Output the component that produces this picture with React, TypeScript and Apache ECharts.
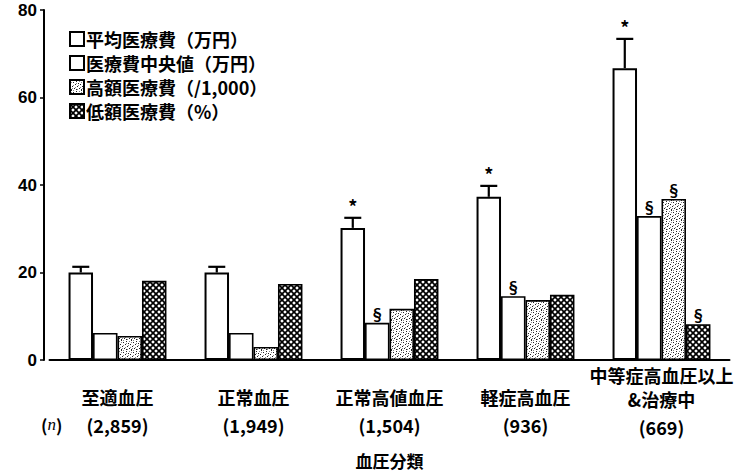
import React, { useEffect, useRef } from "react";
import * as echarts from "echarts";

// Blood-pressure classes and group sizes (n)
const categories = ["至適血圧", "正常血圧", "正常高値血圧", "軽症高血圧", "中等症高血圧以上\n&治療中"];
const groupSizes = ["(2,859)", "(1,949)", "(1,504)", "(936)", "(669)"];

// Series values
const meanCost = [20.0, 20.0, 30.2, 37.3, 66.7];          // 平均医療費 (万円)
const meanCostUpper = [21.3, 21.3, 32.5, 39.8, 73.4];     // upper end of error bar
const meanCostStar = [false, false, true, true, true];    // * significance
const medianCost = [6.2, 6.2, 8.5, 14.6, 32.9];           // 医療費中央値 (万円)
const medianMark = [false, false, true, true, true];      // § significance
const highCost = [5.5, 3.0, 11.7, 13.7, 36.8];            // 高額医療費 (/1,000)
const highMark = [false, false, false, false, true];
const lowCost = [18.1, 17.4, 18.5, 14.9, 8.2];            // 低額医療費 (%)
const lowMark = [false, false, false, false, true];

const seriesNames = ["平均医療費（万円）", "医療費中央値（万円）", "高額医療費（/1,000）", "低額医療費（%）"];
const yTicks = [0, 20, 40, 60, 80];

const FONT = "'Noto Sans CJK JP', sans-serif";
const BAR_GAP_RATIO = 0.28;

function stippleTile(): HTMLCanvasElement {
  const c = document.createElement("canvas");
  c.width = 10;
  c.height = 10;
  const g = c.getContext("2d")!;
  g.fillStyle = "#fff";
  g.fillRect(0, 0, 10, 10);
  const dark: [number, number][] = [
    [1, 0], [6, 1], [3, 2], [8, 3], [0, 4], [5, 4], [2, 6], [7, 6], [4, 8], [9, 8], [1, 9], [6, 9],
  ];
  const mid: [number, number][] = [[3, 0], [9, 1], [1, 2], [6, 3], [3, 5], [8, 5], [0, 7], [5, 7], [2, 8], [7, 9]];
  g.fillStyle = "#222";
  dark.forEach(([x, y]) => g.fillRect(x, y, 1, 1));
  g.fillStyle = "#888";
  mid.forEach(([x, y]) => g.fillRect(x, y, 1, 1));
  return c;
}

function hatchTile(): HTMLCanvasElement {
  const c = document.createElement("canvas");
  c.width = 6;
  c.height = 6;
  const g = c.getContext("2d")!;
  g.fillStyle = "#fff";
  g.fillRect(0, 0, 6, 6);
  g.strokeStyle = "#000";
  g.lineWidth = 1.7;
  g.beginPath();
  g.moveTo(-1, -1); g.lineTo(7, 7);
  g.moveTo(7, -1); g.lineTo(-1, 7);
  g.stroke();
  return c;
}

function markedData(values: number[], marks: boolean[]) {
  return values.map((v, i) => ({ value: v, label: { show: marks[i] } }));
}

export default function App() {
  const ref = useRef<HTMLDivElement>(null);

  useEffect(() => {
    if (!ref.current) return;
    const chart = echarts.init(ref.current, undefined, { renderer: "svg" });

    const stipple = { image: stippleTile(), repeat: "repeat" };
    const hatch = { image: hatchTile(), repeat: "repeat" };

    const barBase = {
      type: "bar",
      barGap: "0%",
      barCategoryGap: BAR_GAP_RATIO * 100 + "%",
      label: {
        show: false,
        position: "top",
        distance: 2,
        formatter: "§",
        color: "#000",
        fontSize: 15,
        fontWeight: "bold",
        fontFamily: FONT,
      },
    };

    const errorData = meanCost.map((v, i) => [i, v, meanCostUpper[i], meanCostStar[i] ? 1 : 0]);

    chart.setOption({
      animation: false,
      backgroundColor: "#fff",
      textStyle: { fontFamily: FONT, color: "#000" },
      grid: { left: 49.5, right: 7.5, top: 10, bottom: 115 },
      legend: {
        data: seriesNames,
        orient: "vertical",
        left: 64,
        top: 25,
        itemWidth: 14,
        itemHeight: 14,
        itemGap: 6,
        icon: "rect",
        textStyle: { fontSize: 18, fontWeight: "bold", fontFamily: FONT, color: "#000", padding: [0, 0, 0, -3] },
      },
      xAxis: {
        type: "category",
        data: categories,
        name: "血圧分類",
        nameLocation: "middle",
        nameGap: 92,
        nameTextStyle: { fontSize: 17, fontWeight: "bold", fontFamily: FONT, color: "#000" },
        axisLine: { lineStyle: { color: "#000", width: 2 } },
        axisTick: { show: false },
        axisLabel: {
          interval: 0,
          margin: 3,
          formatter: (value: string, idx: number) => {
            const lines = value.split("\n");
            const head = lines.length === 1 ? "{s| }\n" : "";
            return head + lines.map((l) => "{a|" + l + "}").join("\n") + "\n{n|" + groupSizes[idx] + "}";
          },
          rich: {
            s: { lineHeight: 22, fontSize: 17 },
            a: { lineHeight: 24, fontSize: 18, fontWeight: "bold", fontFamily: FONT, color: "#000" },
            n: { lineHeight: 31, fontSize: 18, fontWeight: "bold", fontFamily: FONT, color: "#000" },
          },
        },
      },
      yAxis: {
        type: "value",
        min: 0,
        max: 80,
        interval: 20,
        offset: 5.5,
        splitLine: { show: false },
        axisLine: { show: true, lineStyle: { color: "#000", width: 2 } },
        axisTick: { show: true, length: 4, lineStyle: { color: "#000", width: 1.5 } },
        axisLabel: {
          margin: 7,
          fontSize: 17,
          fontWeight: "bold",
          fontFamily: "'Liberation Sans', sans-serif",
          color: "#000",
          formatter: (v: number) => (yTicks.includes(v) ? String(v) : ""),
        },
      },
      graphic: [
        {
          type: "text",
          left: 41,
          top: 416,
          style: {
            text: "({i|n})",
            fontSize: 17,
            fontWeight: "bold",
            fontFamily: FONT,
            fill: "#000",
            rich: { i: { fontStyle: "italic", fontSize: 17, fontFamily: "'Liberation Serif', serif", fill: "#000" } },
          },
        },
      ],
      series: [
        {
          ...barBase,
          name: seriesNames[0],
          data: meanCost,
          itemStyle: { color: "#fff", borderColor: "#000", borderWidth: 2 },
        },
        {
          ...barBase,
          name: seriesNames[1],
          data: markedData(medianCost, medianMark),
          itemStyle: { color: "#fff", borderColor: "#000", borderWidth: 1.6 },
        },
        {
          ...barBase,
          name: seriesNames[2],
          data: markedData(highCost, highMark),
          itemStyle: { color: stipple, borderColor: "#000", borderWidth: 1.6 },
        },
        {
          ...barBase,
          name: seriesNames[3],
          data: markedData(lowCost, lowMark),
          itemStyle: { color: hatch, borderColor: "#000", borderWidth: 1.6 },
        },
        {
          type: "custom",
          name: "error",
          z: 5,
          data: errorData,
          encode: { x: 0, y: [1, 2] },
          renderItem: (_params: any, api: any) => {
            const idx = api.value(0);
            const top = api.coord([idx, api.value(1)]);
            const upper = api.coord([idx, api.value(2)]);
            const band = api.size([1, 0])[0];
            const barW = (band * (1 - BAR_GAP_RATIO)) / 4;
            const x = top[0] - 1.5 * barW;
            const cap = 8.5;
            const children: any[] = [
              { type: "line", shape: { x1: x, y1: top[1], x2: x, y2: upper[1] }, style: { stroke: "#000", lineWidth: 2.2 } },
              { type: "line", shape: { x1: x - cap, y1: upper[1], x2: x + cap, y2: upper[1] }, style: { stroke: "#000", lineWidth: 2.2 } },
            ];
            if (api.value(3) === 1) {
              children.push({
                type: "text",
                x,
                y: upper[1] - 3,
                style: {
                  text: "*",
                  fontSize: 18,
                  fontWeight: "bold",
                  fontFamily: FONT,
                  fill: "#000",
                  align: "center",
                  verticalAlign: "bottom",
                },
              });
            }
            return { type: "group", children };
          },
        },
      ],
    });

    return () => chart.dispose();
  }, []);

  return <div ref={ref} style={{ position: "absolute", left: 0, top: 0, width: 737, height: 475 }} />;
}
